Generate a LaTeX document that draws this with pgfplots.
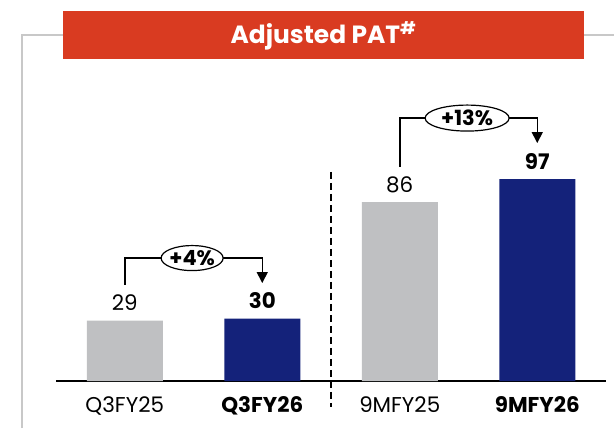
\documentclass[border=0pt]{standalone}
\usepackage{pgfplots}
\pgfplotsset{compat=1.18}
\usepackage{fontspec}
\setmainfont{Poppins}
\usetikzlibrary{arrows.meta}
\definecolor{bargray}{RGB}{191,192,194}
\definecolor{navy}{RGB}{20,34,122}
\definecolor{bannerred}{RGB}{217,59,33}
\definecolor{framegray}{RGB}{200,200,200}
\begin{document}
\begin{tikzpicture}[x=1bp,y=1bp]
\useasboundingbox (0,0) rectangle (614,428);
% frame
\draw[framegray, line width=2bp] (22,0) -- (22,393) -- (614,393);
% banner
\fill[bannerred] (63,369) rectangle (584,417);
\node[text=white, font=\bfseries\fontsize{25}{27}\selectfont] at (323.5,392) {Adjusted PAT\textsuperscript{\#}};
\begin{axis}[
  at={(56bp,47bp)}, anchor=south west,
  scale only axis,
  width=550bp, height=312bp,
  xmin=-0.5, xmax=3.5, ymin=0, ymax=150,
  axis x line*=bottom, axis y line=none,
  x axis line style={line width=1.3bp, black},
  xtick={0,1,2,3},
  xticklabels={Q3FY25,\textbf{Q3FY26},9MFY25,\textbf{9MFY26}},
  xtick style={draw=none},
  xticklabel style={anchor=base, yshift=-27bp, inner sep=0pt, font=\fontsize{21.5}{23}\selectfont},
  ytick=\empty,
  clip=false,
  ybar, bar width=76bp, bar shift=0pt,
  /pgf/number format/assume math mode=true,
  nodes near coords,
  every node near coord/.append style={anchor=base, yshift=10bp, inner sep=0pt, font=\fontsize{21.5}{23}\selectfont, text=black},
]
\addplot[fill=bargray, draw=none] coordinates {(0,29) (2,86)};
\addplot[fill=navy, draw=none, every node near coord/.append style={font=\bfseries\fontsize{21.5}{23}\selectfont}] coordinates {(1,30) (3,97)};
% dashed separator
\draw[black, line width=1.3bp, dash pattern=on 7bp off 4bp] (axis cs:1.5,100.5) -- (axis cs:1.5,-12.5);
% left bracket
\draw[black, line width=1.5bp, -{Triangle[width=11bp,length=11bp]}] (axis cs:0,46.2) -- (axis cs:0,59.1) -- (axis cs:1,59.1) -- (axis cs:1,47.1);
\draw[black, line width=1.2bp, fill=white] (axis cs:0.49,59.1) ellipse [x radius=31bp, y radius=12.5bp];
\node[font=\bfseries\fontsize{21}{23}\selectfont] at (axis cs:0.49,59.1) {+4\%};
% right bracket
\draw[black, line width=1.5bp, -{Triangle[width=11bp,length=11bp]}] (axis cs:2,102.9) -- (axis cs:2,126.4) -- (axis cs:3,126.4) -- (axis cs:3,114.4);
\draw[black, line width=1.2bp, fill=white] (axis cs:2.49,126.4) ellipse [x radius=42bp, y radius=13bp];
\node[font=\bfseries\fontsize{21}{23}\selectfont] at (axis cs:2.49,126.4) {+13\%};
\end{axis}
\end{tikzpicture}
\end{document}
